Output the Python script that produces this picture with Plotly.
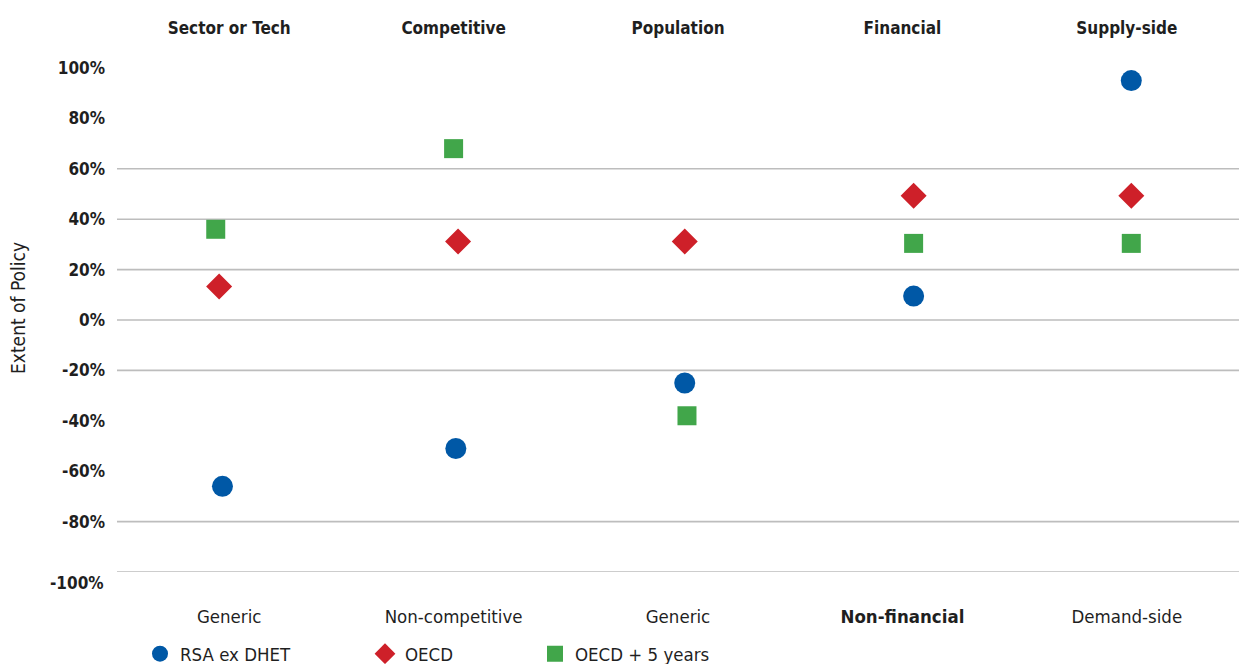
import plotly.graph_objects as go

# Category labels (top and bottom of each column)
top_labels = ["Sector or Tech", "Competitive", "Population", "Financial", "Supply-side"]
bottom_labels = ["Generic", "Non-competitive", "Generic", "<b>Non-financial</b>", "Demand-side"]

# Series values (% extent of policy) with their horizontal positions on the category axis
rsa_x = [-0.03, 1.01, 2.03, 3.05, 4.02]
rsa_y = [-66, -51, -25, 9.5, 95]

oecd_x = [-0.045, 1.02, 2.03, 3.05, 4.02]
oecd_y = [13.3, 31.2, 31.2, 49.3, 49.3]

oecd5_x = [-0.06, 1.0, 2.04, 3.05, 4.02]
oecd5_y = [36, 68, -38, 30.4, 30.4]

# Axis ticks and the gridlines that are drawn
y_ticks = [100, 80, 60, 40, 20, 0, -20, -40, -60, -80]
y_ticktext = ["100%", "80%", "60%", "40%", "20%", "0%", "-20%", "-40%", "-60%", "-80%"]
grid_values = [60, 40, 20, 0, -20, -80, -100]

FONT = "Liberation Sans Narrow, DejaVu Sans Condensed, Arial Narrow, sans-serif"
TEXT = "#1f1f1f"
BLUE = "#0058A6"
RED = "#CE2029"
GREEN = "#41A64A"

fig = go.Figure()

fig.add_trace(go.Scatter(
    x=rsa_x, y=rsa_y, mode="markers", name="RSA ex DHET",
    marker=dict(symbol="circle", size=21, color=BLUE),
    legend="legend",
))
fig.add_trace(go.Scatter(
    x=oecd_x, y=oecd_y, mode="markers", name="OECD",
    marker=dict(symbol="diamond", size=20, color=RED),
    legend="legend2",
))
fig.add_trace(go.Scatter(
    x=oecd5_x, y=oecd5_y, mode="markers", name="OECD + 5 years",
    marker=dict(symbol="square", size=19, color=GREEN),
    legend="legend3",
))

shapes = [
    dict(type="line", xref="paper", x0=0, x1=1, yref="y", y0=v, y1=v,
         line=dict(color="#BDBDBD", width=1.6), layer="below")
    for v in grid_values
]

legend_common = dict(
    orientation="h", yanchor="middle", y=-0.163, xanchor="left",
    font=dict(family=FONT, size=18.5, color=TEXT),
    bgcolor="rgba(0,0,0,0)", borderwidth=0,
)

fig.update_layout(
    width=1239, height=664,
    margin=dict(l=117, r=0, t=68, b=92, autoexpand=False),
    paper_bgcolor="white", plot_bgcolor="white",
    font=dict(family=FONT, color=TEXT),
    showlegend=True,
    legend=dict(x=(140 - 117) / 1122, **legend_common),
    legend2=dict(x=(365 - 117) / 1122, **legend_common),
    legend3=dict(x=(535 - 117) / 1122, **legend_common),
    xaxis=dict(
        range=[-0.5, 4.5], tickvals=list(range(len(bottom_labels))), ticktext=bottom_labels,
        showgrid=False, zeroline=False, showline=False, ticks="",
        tickfont=dict(family=FONT, size=18.5, color=TEXT),
        ticklabelstandoff=31,
    ),
    xaxis2=dict(
        range=[-0.5, 4.5], overlaying="x", side="top", anchor="y",
        tickvals=list(range(len(top_labels))),
        ticktext=[f"<b>{t}</b>" for t in top_labels],
        showgrid=False, zeroline=False, showline=False, ticks="",
        tickfont=dict(family=FONT, size=17, color=TEXT),
        ticklabelstandoff=30,
    ),
    yaxis=dict(
        range=[-100, 100], tickvals=y_ticks, ticktext=[f"<b>{t}</b>" for t in y_ticktext],
        showgrid=False, zeroline=False, showline=False, ticks="",
        tickfont=dict(family=FONT, size=17, color=TEXT),
        ticklabelstandoff=11,
    ),
    shapes=shapes,
    annotations=[
        dict(text="<b>-100%</b>", xref="paper", x=0, xanchor="right", xshift=-11,
             yref="y", y=-100, yanchor="middle", yshift=-11, showarrow=False,
             font=dict(family=FONT, size=17, color=TEXT)),
        dict(text="Extent of Policy", xref="paper", x=0, xshift=-99, xanchor="center",
             yref="paper", y=(572 - 308) / 504, yanchor="middle", textangle=-90,
             showarrow=False, font=dict(family=FONT, size=19, color=TEXT)),
    ],
)

# The top axis carries the upper row of category labels
fig.add_trace(go.Scatter(x=[None], y=[None], xaxis="x2", showlegend=False, hoverinfo="skip"))

fig.write_html("out.html")
